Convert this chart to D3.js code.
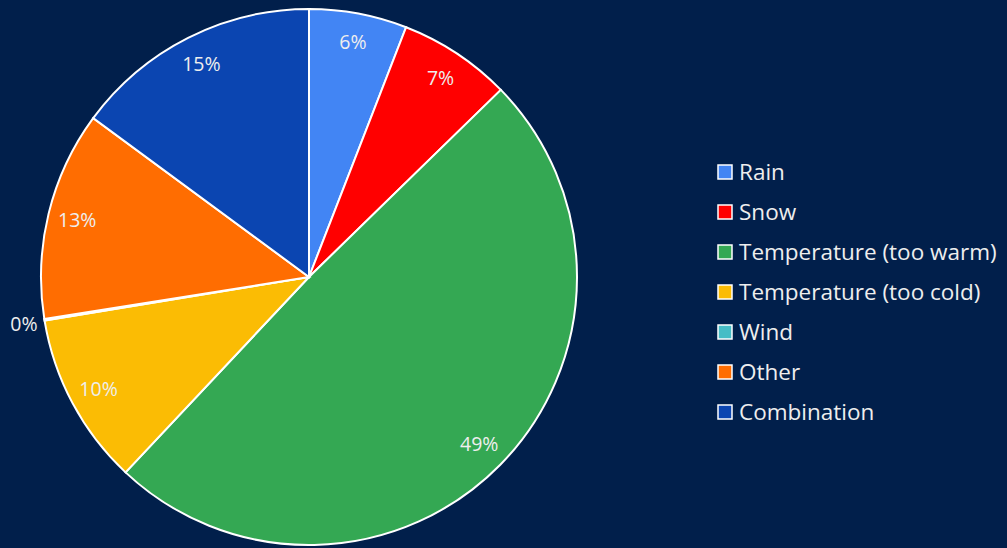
<!DOCTYPE html>
<html>
<head>
<meta charset="utf-8">
<script src="https://cdn.jsdelivr.net/npm/d3@7"></script>
<style>
  html, body { margin: 0; padding: 0; background: #011f4b; }
  svg { display: block; }
  text { font-family: "Open Sans", "Noto Sans", sans-serif; fill: #eeeeee; }
</style>
</head>
<body>
<script>
const width = 1007;
const height = 548;

// slice data, clockwise from 12 o'clock
const categories = ["Rain", "Snow", "Temperature (too warm)", "Temperature (too cold)", "Wind", "Other", "Combination"];
const values = [5.9, 6.8, 49.3, 10.4, 0.1, 12.6, 14.9];
const labels = ["6%", "7%", "49%", "10%", "0%", "13%", "15%"];
const colors = ["#4285f4", "#ff0000", "#34a853", "#fbbc04", "#46bdc6", "#ff6d01", "#0b45b1"];

const svg = d3.select("body").append("svg")
  .attr("width", width)
  .attr("height", height);

svg.append("rect")
  .attr("width", width)
  .attr("height", height)
  .attr("fill", "#011f4b");

const cx = 309, cy = 277, r = 268;

const pie = d3.pie().sort(null).value(d => d);
const arcs = pie(values);

const arc = d3.arc().innerRadius(0).outerRadius(r);
const labelArc = d3.arc().innerRadius(r * 0.89).outerRadius(r * 0.89);
const outerArc = d3.arc().innerRadius(r + 7).outerRadius(r + 7);

const g = svg.append("g").attr("transform", `translate(${cx},${cy})`);

g.selectAll("path")
  .data(arcs)
  .enter()
  .append("path")
  .attr("d", arc)
  .attr("fill", (d, i) => colors[i])
  .attr("stroke", "#ffffff")
  .attr("stroke-width", 2);

//labels inside, tiny slice outside
g.selectAll("text.lbl")
  .data(arcs)
  .enter()
  .append("text")
  .attr("class", "lbl")
  .attr("transform", (d, i) => {
    const p = values[i] < 1 ? outerArc.centroid(d) : labelArc.centroid(d);
    return `translate(${p[0]},${p[1] + (values[i] < 1 ? 3 : 0)})`;
  })
  .attr("text-anchor", (d, i) => values[i] < 1 ? "end" : "middle")
  .attr("dy", "0.35em")
  .style("font-size", "19.5px")
  .text((d, i) => labels[i]);

//legend
const legend = svg.append("g").attr("transform", "translate(718,172)");

const item = legend.selectAll("g")
  .data(categories)
  .enter()
  .append("g")
  .attr("transform", (d, i) => `translate(0,${i * 40})`);

item.append("rect")
  .attr("x", 0)
  .attr("y", -7)
  .attr("width", 14)
  .attr("height", 14)
  .attr("fill", (d, i) => colors[i])
  .attr("stroke", "#ffffff")
  .attr("stroke-width", 1.5);

item.append("text")
  .attr("x", 21)
  .attr("dy", "0.36em")
  .style("font-size", "22.5px")
  .text(d => d);
</script>
</body>
</html>
